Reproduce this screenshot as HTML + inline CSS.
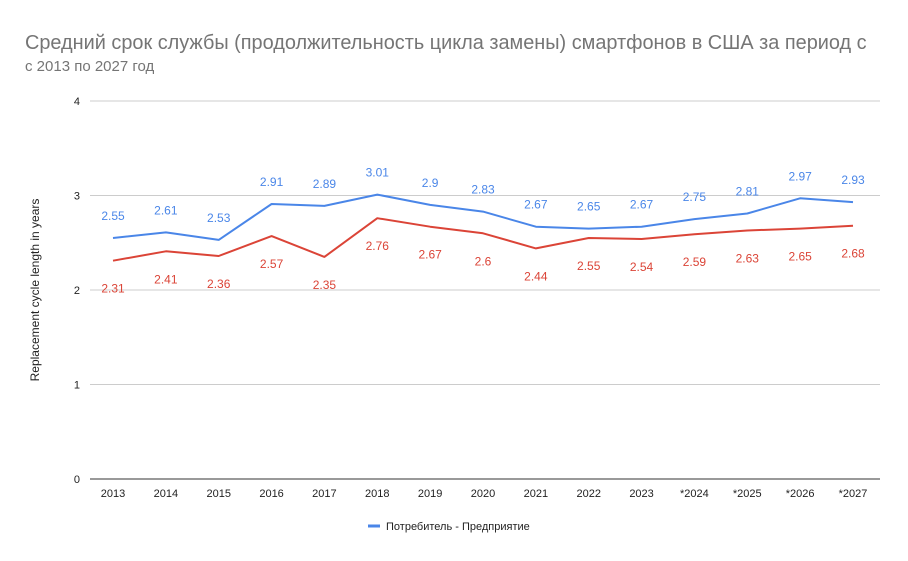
<!DOCTYPE html>
<html><head><meta charset="utf-8"><style>
body{margin:0;background:#fff;}
svg{display:block;font-family:"Liberation Sans","DejaVu Sans",sans-serif;}
</style></head><body>
<svg id="c" width="908" height="561" xmlns="http://www.w3.org/2000/svg">
<rect width="908" height="561" fill="#fff"/>
<text x="25" y="49" font-size="19.9" fill="#757575">Средний срок службы (продолжительность цикла замены) смартфонов в США за период с</text>
<text x="25" y="71" font-size="15" fill="#757575">с 2013 по 2027 год</text>
<g id="grid"></g>
<g id="lab"></g>
<text transform="translate(39 290) rotate(-90)" text-anchor="middle" font-size="12" fill="#222">Replacement cycle length in years</text>
<line x1="368" y1="526" x2="380" y2="526" stroke="#4a86e8" stroke-width="3"/>
<text x="386" y="530" font-size="11" fill="#222">Потребитель - Предприятие</text>
</svg>
<script>
var ns="http://www.w3.org/2000/svg",g=document.getElementById('grid'),L=document.getElementById('lab');
function el(p,t,a,txt){var e=document.createElementNS(ns,t);for(var k in a)e.setAttribute(k,a[k]);if(txt!=null)e.textContent=txt;p.appendChild(e);return e;}
function Y(v){return 479-v*94.5;}
for(var i=0;i<=4;i++){el(g,'line',{x1:90,x2:880,y1:Y(i),y2:Y(i),stroke:i==0?'#333':'#ccc','stroke-width':1});
el(g,'text',{x:80,y:Y(i)+4,'text-anchor':'end','font-size':11,fill:'#222'},i);}
var cats=['2013','2014','2015','2016','2017','2018','2019','2020','2021','2022','2023','*2024','*2025','*2026','*2027'];
var b=[2.55,2.61,2.53,2.91,2.89,3.01,2.9,2.83,2.67,2.65,2.67,2.75,2.81,2.97,2.93];
var r=[2.31,2.41,2.36,2.57,2.35,2.76,2.67,2.6,2.44,2.55,2.54,2.59,2.63,2.65,2.68];
function X(i){return 113+i*52.857;}
cats.forEach(function(c,i){el(g,'text',{x:X(i),y:497,'text-anchor':'middle','font-size':11,fill:'#222'},c);});
function line(d,col,off){var p=d.map(function(v,i){return X(i).toFixed(1)+','+Y(v).toFixed(1);}).join(' ');
el(g,'polyline',{points:p,fill:'none',stroke:col,'stroke-width':2,'stroke-linejoin':'round'});
d.forEach(function(v,i){el(L,'text',{x:X(i),y:Y(v)+off,'text-anchor':'middle','font-size':12,fill:col},String(v));});}
line(b,'#4a86e8',-18);line(r,'#db4437',32);
</script>
</body></html>
